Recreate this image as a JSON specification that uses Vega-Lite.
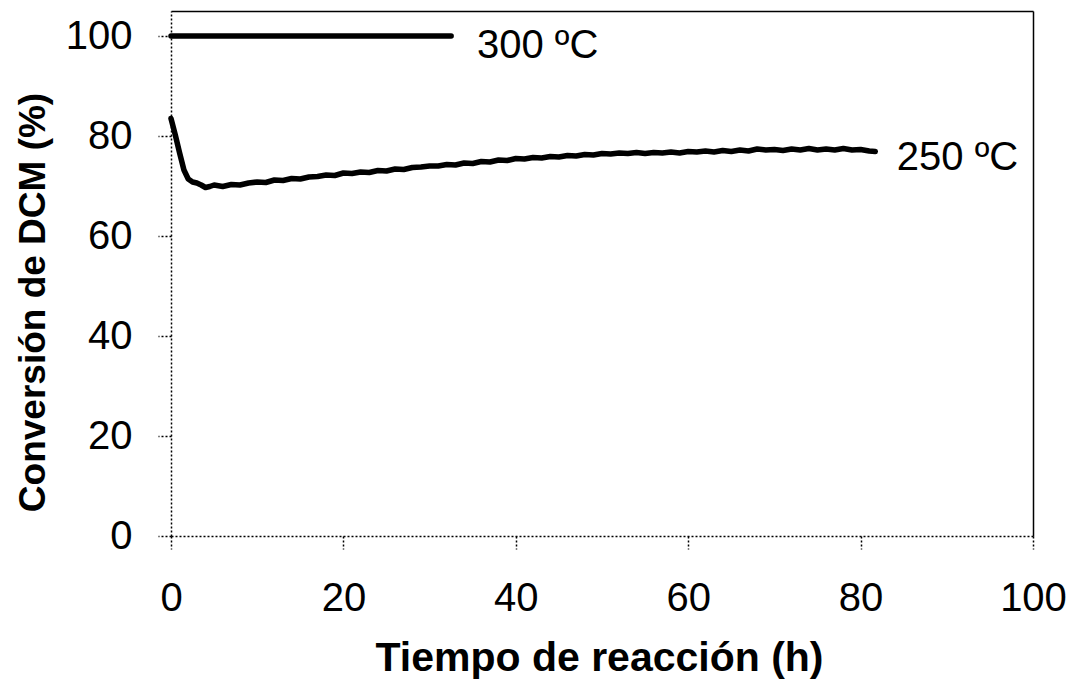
{
  "$schema": "https://vega.github.io/schema/vega-lite/v6.json",
  "autosize": {"type": "none"},
  "padding": {"left": 171, "top": 11, "right": 44, "bottom": 148},
  "width": 862,
  "height": 525,
  "background": "white",
  "config": {
    "view": {"stroke": null},
    "font": "Liberation Sans",
    "axis": {"grid": false, "labelFont": "Liberation Sans", "titleFont": "Liberation Sans", "labelColor": "black", "titleColor": "black"}
  },
  "datasets": {
    "curves": [
      {"serie": "300", "t": 0, "conv": 100},
      {"serie": "300", "t": 32.5, "conv": 100},
      {"serie": "250", "t": 0, "conv": 83.5},
      {"serie": "250", "t": 0.5, "conv": 80.2},
      {"serie": "250", "t": 1, "conv": 76.6},
      {"serie": "250", "t": 1.5, "conv": 73.2},
      {"serie": "250", "t": 2, "conv": 71.4},
      {"serie": "250", "t": 2.5, "conv": 70.8},
      {"serie": "250", "t": 3, "conv": 70.6},
      {"serie": "250", "t": 3.5, "conv": 70.2},
      {"serie": "250", "t": 4, "conv": 69.7},
      {"serie": "250", "t": 4.5, "conv": 69.9},
      {"serie": "250", "t": 5, "conv": 70.2},
      {"serie": "250", "t": 6, "conv": 69.9},
      {"serie": "250", "t": 7, "conv": 70.3},
      {"serie": "250", "t": 8, "conv": 70.2},
      {"serie": "250", "t": 9, "conv": 70.6},
      {"serie": "250", "t": 10, "conv": 70.8},
      {"serie": "250", "t": 11, "conv": 70.7},
      {"serie": "250", "t": 12, "conv": 71.2},
      {"serie": "250", "t": 13, "conv": 71.1},
      {"serie": "250", "t": 14, "conv": 71.5},
      {"serie": "250", "t": 15, "conv": 71.4},
      {"serie": "250", "t": 16, "conv": 71.8},
      {"serie": "250", "t": 17, "conv": 71.9},
      {"serie": "250", "t": 18, "conv": 72.2},
      {"serie": "250", "t": 19, "conv": 72.1},
      {"serie": "250", "t": 20, "conv": 72.6},
      {"serie": "250", "t": 21, "conv": 72.5},
      {"serie": "250", "t": 22, "conv": 72.8},
      {"serie": "250", "t": 23, "conv": 72.7},
      {"serie": "250", "t": 24, "conv": 73.1},
      {"serie": "250", "t": 25, "conv": 73.0},
      {"serie": "250", "t": 26, "conv": 73.4},
      {"serie": "250", "t": 27, "conv": 73.3},
      {"serie": "250", "t": 28, "conv": 73.7},
      {"serie": "250", "t": 29, "conv": 73.8},
      {"serie": "250", "t": 30, "conv": 74.0},
      {"serie": "250", "t": 31, "conv": 74.0},
      {"serie": "250", "t": 32, "conv": 74.3},
      {"serie": "250", "t": 33, "conv": 74.2},
      {"serie": "250", "t": 34, "conv": 74.6},
      {"serie": "250", "t": 35, "conv": 74.5},
      {"serie": "250", "t": 36, "conv": 74.9},
      {"serie": "250", "t": 37, "conv": 74.8},
      {"serie": "250", "t": 38, "conv": 75.2},
      {"serie": "250", "t": 39, "conv": 75.1},
      {"serie": "250", "t": 40, "conv": 75.5},
      {"serie": "250", "t": 41, "conv": 75.4},
      {"serie": "250", "t": 42, "conv": 75.7},
      {"serie": "250", "t": 43, "conv": 75.6},
      {"serie": "250", "t": 44, "conv": 75.9},
      {"serie": "250", "t": 45, "conv": 75.8},
      {"serie": "250", "t": 46, "conv": 76.1},
      {"serie": "250", "t": 47, "conv": 76.0},
      {"serie": "250", "t": 48, "conv": 76.3},
      {"serie": "250", "t": 49, "conv": 76.2},
      {"serie": "250", "t": 50, "conv": 76.5},
      {"serie": "250", "t": 51, "conv": 76.4},
      {"serie": "250", "t": 52, "conv": 76.6},
      {"serie": "250", "t": 53, "conv": 76.5},
      {"serie": "250", "t": 54, "conv": 76.7},
      {"serie": "250", "t": 55, "conv": 76.5},
      {"serie": "250", "t": 56, "conv": 76.7},
      {"serie": "250", "t": 57, "conv": 76.6},
      {"serie": "250", "t": 58, "conv": 76.8},
      {"serie": "250", "t": 59, "conv": 76.6},
      {"serie": "250", "t": 60, "conv": 76.9},
      {"serie": "250", "t": 61, "conv": 76.8},
      {"serie": "250", "t": 62, "conv": 77.0},
      {"serie": "250", "t": 63, "conv": 76.8},
      {"serie": "250", "t": 64, "conv": 77.1},
      {"serie": "250", "t": 65, "conv": 76.9},
      {"serie": "250", "t": 66, "conv": 77.2},
      {"serie": "250", "t": 67, "conv": 77.0},
      {"serie": "250", "t": 68, "conv": 77.4},
      {"serie": "250", "t": 69, "conv": 77.2},
      {"serie": "250", "t": 70, "conv": 77.3},
      {"serie": "250", "t": 71, "conv": 77.1},
      {"serie": "250", "t": 72, "conv": 77.4},
      {"serie": "250", "t": 73, "conv": 77.2},
      {"serie": "250", "t": 74, "conv": 77.5},
      {"serie": "250", "t": 75, "conv": 77.2},
      {"serie": "250", "t": 76, "conv": 77.4},
      {"serie": "250", "t": 77, "conv": 77.2},
      {"serie": "250", "t": 78, "conv": 77.5},
      {"serie": "250", "t": 79, "conv": 77.2},
      {"serie": "250", "t": 80, "conv": 77.3},
      {"serie": "250", "t": 81, "conv": 77.0},
      {"serie": "250", "t": 81.7, "conv": 76.9}
    ],
    "labels": [
      {"t": 35.5, "conv": 98.1, "label": "300 ºC"},
      {"t": 84.2, "conv": 75.7, "label": "250 ºC"}
    ]
  },
  "resolve": {"axis": {"x": "independent", "y": "independent"}},
  "layer": [
    {
      "data": {"name": "curves"},
      "mark": {"type": "line", "color": "black", "strokeWidth": 5.5, "strokeJoin": "round", "strokeCap": "round"},
      "encoding": {
        "x": {"field": "t", "type": "quantitative",
          "scale": {"domain": [0, 100], "nice": false, "zero": false},
          "axis": {"orient": "bottom", "values": [0, 20, 40, 60, 80, 100], "title": "Tiempo de reacción (h)",
            "domainColor": "black", "domainDash": [2, 2], "domainWidth": 1.5,
            "tickColor": "black", "tickDash": [2, 2], "tickSize": 13, "tickWidth": 1.5,
            "labelFontSize": 40, "labelPadding": 29, "labelFlush": false, "labelOverlap": false,
            "titleFontSize": 41, "titleFontWeight": "bold", "titleBaseline": "alphabetic", "titleY": 134, "titleX": 428}},
        "y": {"field": "conv", "type": "quantitative",
          "scale": {"domain": [0, 105], "nice": false},
          "axis": {"orient": "left", "values": [0, 20, 40, 60, 80, 100], "title": "Conversión de DCM (%)",
            "domainColor": "black", "domainDash": [2, 2], "domainWidth": 1.5,
            "tickColor": "black", "tickDash": [2, 2], "tickSize": 13, "tickWidth": 1.5,
            "labelFontSize": 40, "labelPadding": 26, "labelFlush": false, "labelOverlap": false,
            "titleFontSize": 37, "titleFontWeight": "bold", "titleAngle": 270, "titleBaseline": "alphabetic", "titleX": -127, "titleY": 291}},
        "detail": {"field": "serie", "type": "nominal"}
      }
    },
    {
      "data": {"name": "labels"},
      "mark": {"type": "text", "align": "left", "baseline": "middle", "fontSize": 40, "font": "Liberation Sans", "color": "black"},
      "encoding": {
        "x": {"field": "t", "type": "quantitative", "axis": {"orient": "top", "labels": false, "ticks": false, "title": null, "domainColor": "black", "domainWidth": 1.5}},
        "y": {"field": "conv", "type": "quantitative", "axis": {"orient": "right", "labels": false, "ticks": false, "title": null, "domainColor": "black", "domainWidth": 1.5}},
        "text": {"field": "label", "type": "nominal"}
      }
    }
  ]
}
